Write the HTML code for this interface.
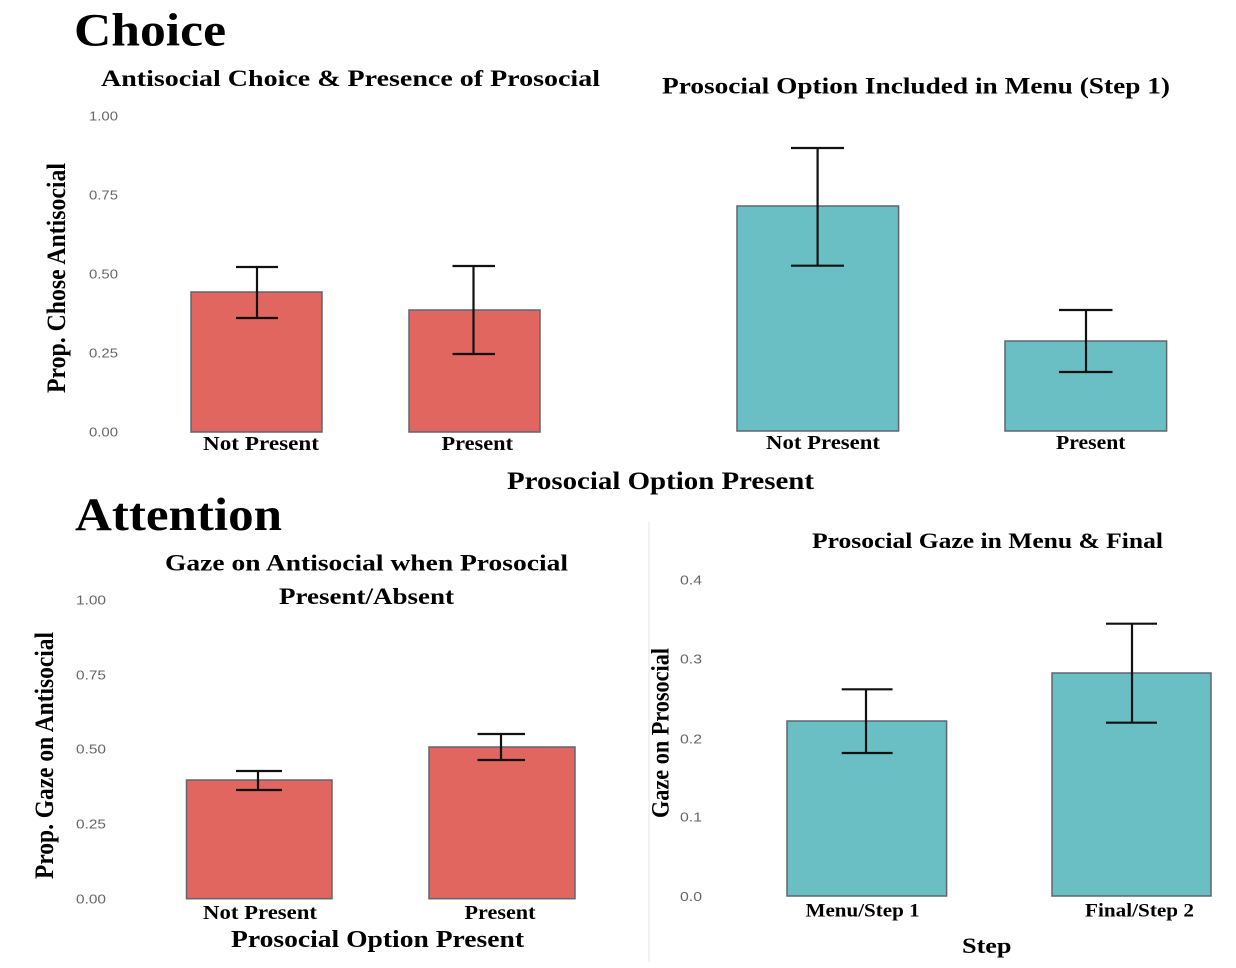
<!DOCTYPE html>
<html><head><meta charset="utf-8"><style>
html,body{margin:0;padding:0;background:#fff;}
svg{display:block;}
text{font-family:"Liberation Serif",serif;font-weight:bold;fill:#000;}
.t{font-family:"Liberation Sans",sans-serif;font-weight:normal;fill:#666;font-size:12.5px;}
.bar1{fill:#E1665F;stroke:#5f6670;stroke-width:1.5;}
.bar2{fill:#6ABFC4;stroke:#5f6670;stroke-width:1.5;}
.eb{stroke:#111;stroke-width:2.2;fill:none;}
</style></head><body>
<svg width="1236" height="968" viewBox="0 0 1236 968" xmlns="http://www.w3.org/2000/svg">
<rect width="1236" height="968" fill="#fff"/>
<line x1="649" y1="522" x2="649" y2="962" stroke="#eeeeee" stroke-width="1.5"/>

<!-- Headings -->
<text x="74" y="45.5" font-size="47" textLength="152" lengthAdjust="spacingAndGlyphs">Choice</text>
<text x="75" y="530" font-size="47" textLength="207" lengthAdjust="spacingAndGlyphs">Attention</text>

<!-- Top-left panel -->
<text x="101" y="86" font-size="23" textLength="499" lengthAdjust="spacingAndGlyphs">Antisocial Choice &amp; Presence of Prosocial</text>
<text class="t" x="89" y="120.5" textLength="29" lengthAdjust="spacingAndGlyphs">1.00</text>
<text class="t" x="89" y="199.5" textLength="29" lengthAdjust="spacingAndGlyphs">0.75</text>
<text class="t" x="89" y="278.5" textLength="29" lengthAdjust="spacingAndGlyphs">0.50</text>
<text class="t" x="89" y="357.5" textLength="29" lengthAdjust="spacingAndGlyphs">0.25</text>
<text class="t" x="89" y="436.5" textLength="29" lengthAdjust="spacingAndGlyphs">0.00</text>
<g transform="translate(65,278) scale(1.12,1) rotate(-90)"><text x="0" y="0" font-size="24" text-anchor="middle" textLength="230" lengthAdjust="spacingAndGlyphs">Prop. Chose Antisocial</text></g>
<rect class="bar1" x="191" y="292" width="131" height="140"/>
<rect class="bar1" x="409" y="310" width="131" height="122"/>
<path class="eb" d="M236 267H278M257 267V318M236 318H278"/>
<path class="eb" d="M452.5 266H495M473.5 266V354M452.5 354H495"/>
<text x="203" y="450" font-size="19.5" textLength="116" lengthAdjust="spacingAndGlyphs">Not Present</text>
<text x="441.5" y="450" font-size="19.5" textLength="71.5" lengthAdjust="spacingAndGlyphs">Present</text>

<!-- Top-right panel -->
<text x="662" y="93.5" font-size="23" textLength="508" lengthAdjust="spacingAndGlyphs">Prosocial Option Included in Menu (Step 1)</text>
<rect class="bar2" x="737" y="206" width="161.6" height="225"/>
<rect class="bar2" x="1005" y="341" width="161.6" height="90"/>
<path class="eb" d="M791 148H844M817.6 148V265.7M791 265.7H844"/>
<path class="eb" d="M1059 310H1112.5M1086 310V372M1059 372H1112.5"/>
<text x="766" y="449" font-size="19.5" textLength="114" lengthAdjust="spacingAndGlyphs">Not Present</text>
<text x="1056" y="449" font-size="19.5" textLength="69.5" lengthAdjust="spacingAndGlyphs">Present</text>

<text x="507" y="489" font-size="25" textLength="307" lengthAdjust="spacingAndGlyphs">Prosocial Option Present</text>

<!-- Bottom-left panel -->
<text x="165" y="570.5" font-size="23" textLength="403" lengthAdjust="spacingAndGlyphs">Gaze on Antisocial when Prosocial</text>
<text x="279" y="604" font-size="23" textLength="175" lengthAdjust="spacingAndGlyphs">Present/Absent</text>
<text class="t" x="76" y="604.5" textLength="30" lengthAdjust="spacingAndGlyphs">1.00</text>
<text class="t" x="76" y="679.5" textLength="30" lengthAdjust="spacingAndGlyphs">0.75</text>
<text class="t" x="76" y="753.5" textLength="30" lengthAdjust="spacingAndGlyphs">0.50</text>
<text class="t" x="76" y="828.5" textLength="30" lengthAdjust="spacingAndGlyphs">0.25</text>
<text class="t" x="76" y="903.5" textLength="30" lengthAdjust="spacingAndGlyphs">0.00</text>
<g transform="translate(53,755.5) scale(1.12,1) rotate(-90)"><text x="0" y="0" font-size="24" text-anchor="middle" textLength="247" lengthAdjust="spacingAndGlyphs">Prop. Gaze on Antisocial</text></g>
<rect class="bar1" x="186.5" y="780" width="145.5" height="118.7"/>
<rect class="bar1" x="429" y="747" width="146" height="151.7"/>
<path class="eb" d="M236 771H282M258 771V790M236 790H282"/>
<path class="eb" d="M477.5 734H525M501 734V760M477.5 760H525"/>
<text x="203" y="919" font-size="19.5" textLength="114" lengthAdjust="spacingAndGlyphs">Not Present</text>
<text x="464.5" y="919" font-size="19.5" textLength="71" lengthAdjust="spacingAndGlyphs">Present</text>
<text x="231" y="947" font-size="24" textLength="293" lengthAdjust="spacingAndGlyphs">Prosocial Option Present</text>

<!-- Bottom-right panel -->
<text x="812" y="548" font-size="22" textLength="351" lengthAdjust="spacingAndGlyphs">Prosocial Gaze in Menu &amp; Final</text>
<text class="t" x="680" y="584.5" textLength="22" lengthAdjust="spacingAndGlyphs">0.4</text>
<text class="t" x="680" y="663.5" textLength="22" lengthAdjust="spacingAndGlyphs">0.3</text>
<text class="t" x="680" y="743.5" textLength="22" lengthAdjust="spacingAndGlyphs">0.2</text>
<text class="t" x="680" y="821.5" textLength="22" lengthAdjust="spacingAndGlyphs">0.1</text>
<text class="t" x="680" y="901" textLength="22" lengthAdjust="spacingAndGlyphs">0.0</text>
<g transform="translate(668.5,733) scale(1.12,1) rotate(-90)"><text x="0" y="0" font-size="23" text-anchor="middle" textLength="170" lengthAdjust="spacingAndGlyphs">Gaze on Prosocial</text></g>
<rect class="bar2" x="787" y="721" width="159.6" height="175"/>
<rect class="bar2" x="1052" y="673" width="159" height="223"/>
<path class="eb" d="M841.7 689.3H892.6M866 689.3V753M841.7 753H892.6"/>
<path class="eb" d="M1106 623.7H1157M1132 623.7V722.7M1106 722.7H1157"/>
<text x="805.6" y="916.5" font-size="18.5" textLength="114" lengthAdjust="spacingAndGlyphs">Menu/Step 1</text>
<text x="1085" y="916.5" font-size="18.5" textLength="109" lengthAdjust="spacingAndGlyphs">Final/Step 2</text>
<text x="962" y="953" font-size="22" textLength="49.5" lengthAdjust="spacingAndGlyphs">Step</text>
</svg>
</body></html>
